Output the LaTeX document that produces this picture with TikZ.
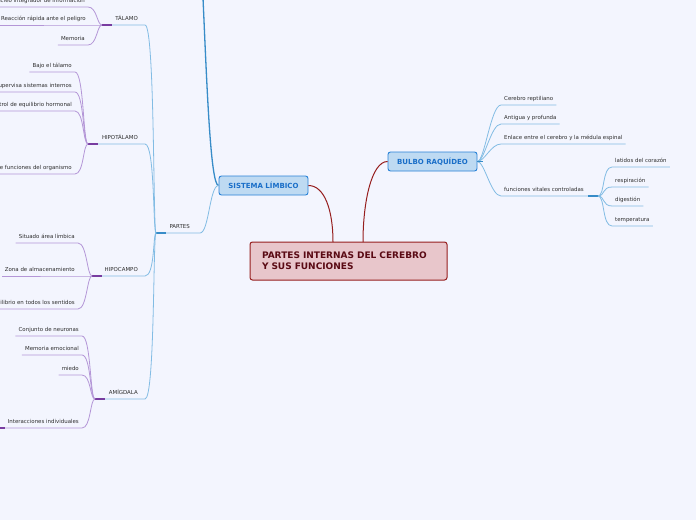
\documentclass[tikz,border=0pt]{standalone}
\usepackage{fontspec}
\setmainfont{DejaVu Sans}
\usepackage{xcolor}
\definecolor{mybg}{RGB}{243,245,254}
\definecolor{myred}{RGB}{150,30,30}
\definecolor{mainfill}{RGB}{232,198,203}
\definecolor{maintext}{RGB}{90,10,20}
\definecolor{topicfill}{RGB}{190,218,242}
\definecolor{topicdraw}{RGB}{40,130,215}
\definecolor{topictext}{RGB}{25,110,200}
\definecolor{lblue}{RGB}{130,188,228}
\definecolor{dblue}{RGB}{55,140,200}
\definecolor{lpurple}{RGB}{180,150,215}
\definecolor{dpurple}{RGB}{120,60,160}
\definecolor{mytext}{RGB}{45,45,45}

\begin{document}
\begin{tikzpicture}[x=1pt,y=-1pt,
  mainnode/.style={draw=myred, line width=1pt, fill=mainfill, rounded corners=2.5pt, text=maintext,
    font=\bfseries\fontsize{9}{11}\selectfont, align=left, text width=173pt, inner xsep=12pt, minimum height=38pt},
  topic/.style={draw=topicdraw, line width=0.9pt, fill=topicfill, rounded corners=2.5pt, text=topictext,
    font=\bfseries\fontsize{7}{8}\selectfont, minimum width=89pt, minimum height=19pt, inner sep=0pt},
  leaf/.style={font=\fontsize{5.45}{6}\selectfont, text=mytext, inner xsep=3pt, inner ysep=2.8pt,
    text height=4pt, text depth=1.2pt},
  branch/.style={leaf, inner xsep=7pt, anchor=south east},
  rlink/.style={draw=myred, line width=1pt},
  blink/.style={draw=lblue, line width=0.8pt},
  plink/.style={draw=lpurple, line width=0.8pt},
  bhub/.style={draw=dblue, line width=1.6pt},
  phub/.style={draw=dpurple, line width=1.6pt},
  lcurve/.style={to path={.. controls +(-5,0) and +(9,0) .. (\tikztotarget)}},
  rcurve/.style={to path={.. controls +(7,0) and +(-10,0) .. (\tikztotarget)}},
  spine/.style={to path={.. controls +(-3,0) and +(10,0) .. (\tikztotarget)}}]

\fill[mybg] (0,0) rectangle (696,520);
\useasboundingbox (0,0) rectangle (696,520);

% main topics
\node[mainnode] (main) at (348.5,261) {PARTES INTERNAS DEL CEREBRO\\Y SUS FUNCIONES};
\node[topic] (sis) at (263.5,185.5) {SISTEMA LÍMBICO};
\node[topic] (bul) at (432.5,161.5) {BULBO RAQUÍDEO};

\coordinate (m1) at (333,242);
\coordinate (m2) at (363,242);
\draw[rlink] (sis.east) .. controls +(16,0) and +(0,-32) .. (m1);
\draw[rlink] (bul.west) .. controls +(-16,0) and +(0,-40) .. (m2);

% sistema limbico
\coordinate (top) at (203,-2);
\draw[draw=dblue, line width=1.3pt] (sis.west) .. controls +(-8,0) and +(4,90) .. (top);

\coordinate (hpar) at (156,233);
\node[branch, inner xsep=10pt] (par) at (200,233) {PARTES};
\draw[blink] (sis.west) .. controls +(-9,0) and +(9,0) .. (par.south east) -- (hpar);
\draw[bhub] (hpar) -- ++(10,0);

\coordinate (htal) at (102,25);
\coordinate (hhip) at (88,144);
\coordinate (hhic) at (92,276);
\coordinate (hami) at (95,399);
\node[branch] (tal) at (145,25) {TÁLAMO};
\node[branch] (hip) at (145,144) {HIPOTÁLAMO};
\node[branch] (hic) at (145,276) {HIPOCAMPO};
\node[branch] (ami) at (145,399) {AMÍGDALA};
\foreach \b/\h in {tal/htal, hip/hhip, hic/hhic, ami/hami}{
  \draw[blink] (hpar) to[spine] (\b.south east) -- (\h);
  \draw[phub] (\h) -- ++(10,0);
}

% talamo
\node[leaf, anchor=south east] (t1) at (88,7) {Núcleo integrador de información};
\node[leaf, anchor=south east] (t2) at (89,25) {Reacción rápida ante el peligro};
\node[leaf, anchor=south east] (t3) at (88,45) {Memoria};

% hipotalamo
\node[leaf, anchor=south east] (h1) at (75,72) {Bajo el tálamo};
\node[leaf, anchor=south east] (h2) at (75,92) {Supervisa sistemas internos};
\node[leaf, anchor=south east] (h3) at (75,111) {Control de equilibrio hormonal};
\node[leaf, anchor=south east] (h4) at (75,174) {Regulación de funciones del organismo};

% hipocampo
\node[leaf, anchor=south east] (c1) at (78,243) {Situado área límbica};
\node[leaf, anchor=south east] (c2) at (78,276) {Zona de almacenamiento};
\node[leaf, anchor=south east] (c3) at (78,309) {Equilibrio en todos los sentidos};

% amigdala
\node[leaf, anchor=south east] (a1) at (82,336) {Conjunto de neuronas};
\node[leaf, anchor=south east] (a2) at (82,355) {Memoria emocional};
\node[leaf, anchor=south east] (a3) at (82,375) {miedo};
\node[leaf, anchor=south east] (a4) at (82,428) {Interacciones individuales};

\foreach \h/\c in {htal/t1, htal/t2, htal/t3, hhip/h1, hhip/h2, hhip/h3, hhip/h4,
  hhic/c1, hhic/c2, hhic/c3, hami/a1, hami/a2, hami/a3, hami/a4}
  \draw[plink] (\h) to[lcurve] (\c.south east) -- (\c.south west);
\draw[phub] (a4.south west) -- ++(-8,0);

% bulbo raquideo
\coordinate (hbul) at (bul.east);
\coordinate (hfun) at (598,196);
\node[leaf, anchor=south west] (b1) at (501,105) {Cerebro reptiliano};
\node[leaf, anchor=south west] (b2) at (501,124) {Antigua y profunda};
\node[leaf, anchor=south west] (b3) at (501,144) {Enlace entre el cerebro y la médula espinal};
\node[leaf, anchor=south west] (b4) at (501,196) {funciones vitales controladas};
\foreach \c in {b1,b2,b3}
  \draw[blink] (hbul) to[rcurve] (\c.south west) -- (\c.south east);
\draw[blink] (hbul) to[rcurve] (b4.south west) -- (hfun);
\draw[bhub] (hbul) -- ++(6,0);
\draw[bhub] (hfun) -- ++(-10,0);

\node[leaf, anchor=south west] (f1) at (612,167) {latidos del corazón};
\node[leaf, anchor=south west] (f2) at (612,187) {respiración};
\node[leaf, anchor=south west] (f3) at (612,206) {digestión};
\node[leaf, anchor=south west] (f4) at (612,226) {temperatura};
\foreach \c in {f1,f2,f3,f4}
  \draw[blink] (hfun) to[rcurve] (\c.south west) -- (\c.south east);

\end{tikzpicture}
\end{document}
